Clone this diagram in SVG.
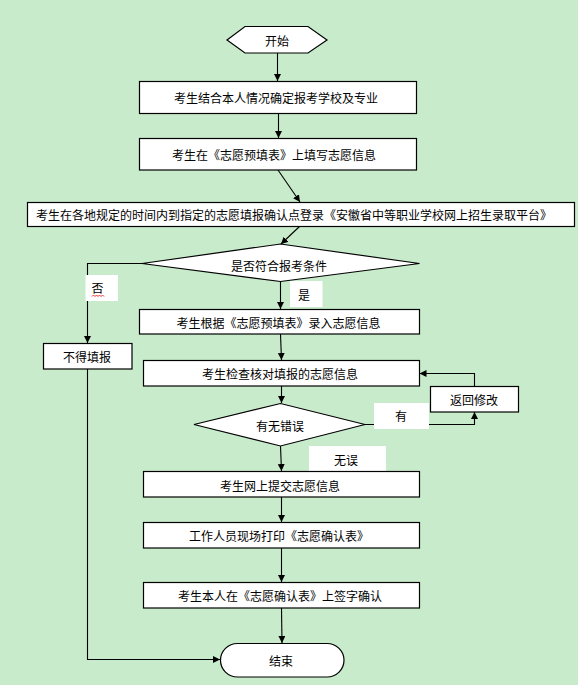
<svg xmlns="http://www.w3.org/2000/svg" width="578" height="685" viewBox="0 0 578 685">
<defs>
<marker id="arr" viewBox="0 0 10 10" refX="10" refY="5" markerWidth="7" markerHeight="7" orient="auto" markerUnits="userSpaceOnUse">
<path d="M0,0 L10,5 L0,10 z" fill="#000"/>
</marker>
<style>
.n{fill:#fff;stroke:#000;stroke-width:1.2}
.t{font-family:"Noto Sans CJK SC","Noto Sans",sans-serif;font-size:12px;fill:#000;text-anchor:middle;dominant-baseline:central}
.c{fill:none;stroke:#000;stroke-width:1.1;marker-end:url(#arr)}
.l{fill:#fff}
</style>
</defs>
<rect width="578" height="685" fill="#C7EBCB"/>
<g id="connectors">
<path class="c" d="M277.5,53 L277.5,81"/>
<path class="c" d="M278.5,114 L278.5,138"/>
<path class="c" d="M278,170 L300,202"/>
<path class="c" d="M300,226 L281,244"/>
<path class="c" d="M142,263.5 L87.5,263.5 L87.5,343"/>
<path class="c" d="M280.5,281 L280.5,309"/>
<path class="c" d="M280.5,334 L281.5,360"/>
<path class="c" d="M281.5,386 L281.5,403"/>
<path class="c" d="M365,424.5 L474.5,424.5 L474.5,412"/>
<path class="c" d="M474.5,386 L474.5,373.5 L419.5,373.5"/>
<path class="c" d="M280.5,446 L281.5,471"/>
<path class="c" d="M281.5,497 L281.5,522"/>
<path class="c" d="M281.5,548 L281.5,582"/>
<path class="c" d="M281.5,608 L282,643"/>
<path class="c" d="M87.5,369 L87.5,659.5 L220,659.5"/>
</g>
<g id="label-no">
<rect class="l" x="85.5" y="275" width="32.5" height="26"/>
<text class="t" x="97.5" y="287">否</text>
<polyline points="92,296.5 93.5,295 95,296.5 96.5,295 98,296.5 99.5,295 101,296.5 102.5,295 104,296.5" fill="none" stroke="#e00000" stroke-width="0.8"/>
</g>
<g id="label-yes">
<rect class="l" x="290" y="281" width="32.5" height="26"/>
<text class="t" x="304" y="294">是</text>
</g>
<g id="label-has">
<rect class="l" x="374" y="403" width="55" height="26"/>
<text class="t" x="401" y="415">有</text>
</g>
<g id="label-noerr">
<rect class="l" x="309" y="446" width="77" height="26"/>
<text class="t" x="346" y="459">无误</text>
</g>
<g id="start">
<polygon class="n" points="227,40 245,26.5 308,26.5 327,40 308,53 245,53"/>
<text class="t" x="277" y="40">开始</text>
</g>
<g id="step1">
<rect class="n" x="139.5" y="81.5" width="277" height="32"/>
<text class="t" x="276" y="97">考生结合本人情况确定报考学校及专业</text>
</g>
<g id="step2">
<rect class="n" x="139.5" y="138.5" width="277" height="31.5"/>
<text class="t" x="274" y="154">考生在《志愿预填表》上填写志愿信息</text>
</g>
<g id="step3">
<rect class="n" x="27.5" y="202.5" width="547" height="24"/>
<text class="t" x="294" y="214">考生在各地规定的时间内到指定的志愿填报确认点登录《安徽省中等职业学校网上招生录取平台》</text>
</g>
<g id="decision1">
<polygon class="n" points="142,263.5 280.5,244 419.5,263.5 280.5,281.5"/>
<text class="t" x="279" y="265">是否符合报考条件</text>
</g>
<g id="reject">
<rect class="n" x="43.5" y="343.5" width="88.5" height="25.5"/>
<text class="t" x="87" y="356">不得填报</text>
</g>
<g id="step4">
<rect class="n" x="139.5" y="309.5" width="280" height="24.5"/>
<text class="t" x="278.5" y="322">考生根据《志愿预填表》录入志愿信息</text>
</g>
<g id="step5">
<rect class="n" x="143.5" y="360.5" width="276" height="25.5"/>
<text class="t" x="280" y="373">考生检查核对填报的志愿信息</text>
</g>
<g id="modify">
<rect class="n" x="430.5" y="386.5" width="88" height="25.5"/>
<text class="t" x="474" y="399">返回修改</text>
</g>
<g id="decision2">
<polygon class="n" points="194,424.5 280.5,403.5 365,424.5 280.5,446"/>
<text class="t" x="280" y="425">有无错误</text>
</g>
<g id="step6">
<rect class="n" x="143.5" y="471.5" width="276" height="25.5"/>
<text class="t" x="280" y="485">考生网上提交志愿信息</text>
</g>
<g id="step7">
<rect class="n" x="143.5" y="522.5" width="276" height="25.5"/>
<text class="t" x="279" y="535">工作人员现场打印《志愿确认表》</text>
</g>
<g id="step8">
<rect class="n" x="143.5" y="582.5" width="276" height="25.5"/>
<text class="t" x="280" y="595">考生本人在《志愿确认表》上签字确认</text>
</g>
<g id="end">
<rect class="n" x="220.5" y="643.5" width="123.5" height="33.5" rx="17" ry="17"/>
<text class="t" x="281" y="660">结束</text>
</g>
</svg>
